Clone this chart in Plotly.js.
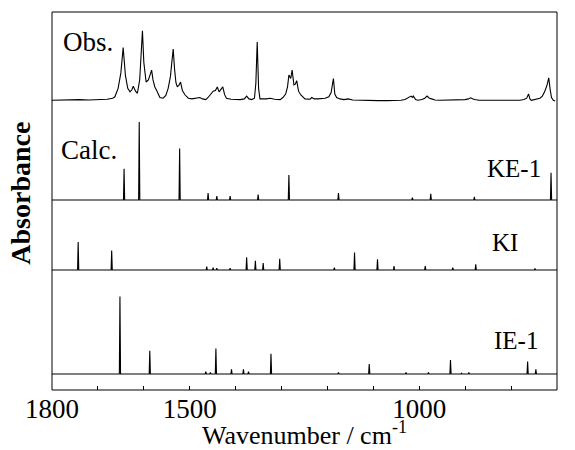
<!DOCTYPE html>
<html>
<head>
<meta charset="utf-8">
<script src="https://cdn.plot.ly/plotly-3.0.1.min.js"></script>
</head>
<body style="margin:0">
<div id="chart"></div>
<script>
// ---- Observed spectrum (wavenumber / cm-1, relative absorbance) ----
const obsWavenumber = [1800,1780,1760,1740,1720,1700,1680,1668,1663,1656,1650,1645,1640,1635,1630,1626,1623,1618,1614,1609,1606,1603,1600,1597,1595,1590,1586,1583,1580,1576,1572,1565,1558,1552,1547,1542,1539,1536,1533,1530,1527,1523,1520,1516,1510,1503,1495,1488,1482,1478,1472,1465,1460,1456,1452,1449,1444,1440,1436,1432,1428,1424,1420,1410,1401,1390,1381,1376,1371,1365,1359,1356,1353,1350,1347,1340,1333,1325,1315,1303,1297,1291,1287,1284,1280,1277,1273,1270,1267,1263,1258,1249,1238,1234,1229,1221,1212,1205,1197,1192,1187,1184,1180,1173,1164,1155,1145,1130,1110,1090,1070,1050,1040,1031,1025,1020,1018,1015,1013,1008,1003,994,988,983,978,973,966,955,940,925,910,900,893,888,883,879,870,857,840,824,805,790,781,772,766,762,759,756,752,745,737,732,727,722,718,715,712,708,704,700];
const obsAbsorbance = [0.01,0.015,0.01,0.02,0.015,0.02,0.025,0.04,0.06,0.18,0.40,0.76,0.36,0.18,0.13,0.16,0.21,0.14,0.11,0.30,0.60,1.00,0.55,0.33,0.27,0.30,0.38,0.44,0.30,0.20,0.15,0.05,0.04,0.08,0.18,0.35,0.55,0.74,0.45,0.26,0.20,0.23,0.27,0.15,0.085,0.04,0.03,0.035,0.04,0.05,0.03,0.02,0.05,0.085,0.11,0.14,0.15,0.20,0.13,0.16,0.20,0.09,0.04,0.025,0.02,0.02,0.03,0.07,0.03,0.02,0.04,0.25,0.84,0.18,0.03,0.025,0.03,0.04,0.025,0.02,0.05,0.10,0.20,0.37,0.32,0.44,0.23,0.24,0.29,0.14,0.085,0.03,0.025,0.05,0.03,0.03,0.035,0.04,0.06,0.12,0.32,0.10,0.05,0.03,0.02,0.03,0.015,0.01,0.005,0.005,0.005,0.005,0.01,0.02,0.04,0.06,0.07,0.05,0.07,0.02,0.01,0.02,0.04,0.07,0.04,0.03,0.015,0.01,0.01,0.01,0.015,0.02,0.03,0.045,0.03,0.02,0.01,0.01,0.005,0.005,0.005,0.005,0.01,0.02,0.04,0.10,0.03,0.01,0.015,0.02,0.04,0.07,0.13,0.22,0.33,0.17,0.05,0.01,0.0];

// ---- Calculated stick spectra (wavenumber / cm-1, relative intensity) ----
const ke1Wavenumber = [1643,1610,1522,1460,1441,1412,1351,1284,1176,1015,975,880,713];
const ke1Intensity  = [0.40,1.00,0.66,0.09,0.05,0.05,0.07,0.32,0.09,0.03,0.08,0.04,0.35];

const kiWavenumber = [1743,1670,1463,1449,1441,1412,1376,1357,1340,1304,1185,1141,1091,1055,987,927,877,748];
const kiIntensity  = [1.00,0.70,0.12,0.08,0.07,0.07,0.45,0.33,0.25,0.40,0.08,0.62,0.38,0.14,0.14,0.08,0.20,0.06];

const ie1Wavenumber = [1652,1587,1465,1455,1443,1409,1383,1372,1323,1176,1109,1029,980,932,908,892,764,746];
const ie1Intensity  = [1.00,0.30,0.03,0.02,0.33,0.06,0.06,0.03,0.26,0.02,0.13,0.02,0.02,0.18,0.01,0.02,0.16,0.06];

// ---- Axis ticks ----
const tickValues = [1800,1500,1000,700];
const tickLabels = ['1800','1500','1000','700'];
const minorTickValues = [1700,1600,1400,1300,1200,1100,900,800];

// ---- Panel labels ----
const panelLabels = ['Obs.','Calc.','KE-1','KI','IE-1'];

const FONT = 'Times New Roman';
const X_MIN = 1800, X_MAX = 700;

function stickLine(wn, inten) {
  const idx = wn.map((_, i) => i).sort((a, b) => wn[b] - wn[a]);
  const xs = [X_MIN], ys = [0];
  idx.forEach(i => { xs.push(wn[i] + 1.3, wn[i], wn[i] - 1.3); ys.push(0, inten[i], 0); });
  xs.push(X_MAX); ys.push(0);
  return {xs, ys};
}

// pixel geometry of the plot area and of each panel's baseline / unit height
const plotTop = 12, plotBottom = 390;
function panelRange(basePx, unitPx) {
  return [-(plotBottom - basePx) / unitPx, (basePx - plotTop) / unitPx];
}

const lineStyle = {color: 'black', width: 1.1};
const ke1 = stickLine(ke1Wavenumber, ke1Intensity);
const ki = stickLine(kiWavenumber, kiIntensity);
const ie1 = stickLine(ie1Wavenumber, ie1Intensity);

const traces = [
  {x: ie1.xs, y: ie1.ys, yaxis: 'y', mode: 'lines', line: lineStyle},
  {x: ki.xs, y: ki.ys, yaxis: 'y2', mode: 'lines', line: lineStyle},
  {x: ke1.xs, y: ke1.ys, yaxis: 'y3', mode: 'lines', line: lineStyle},
  {x: obsWavenumber, y: obsAbsorbance, yaxis: 'y4', mode: 'lines', line: lineStyle}
];

const hiddenY = {visible: false, showgrid: false, zeroline: false, fixedrange: true};
const txt = (size) => ({family: FONT, size: size, color: 'black'});

const layout = {
  width: 575, height: 450,
  margin: {l: 52, r: 18, t: 12, b: 60, pad: 0},
  paper_bgcolor: 'white', plot_bgcolor: 'white',
  showlegend: false,
  font: txt(16),
  xaxis: {
    range: [X_MIN, X_MAX], tickmode: 'array', tickvals: tickValues, ticktext: tickLabels,
    ticks: 'inside', ticklen: 4, tickwidth: 1, tickcolor: 'black',
    minor: {tickmode: 'array', tickvals: minorTickValues, ticks: 'inside', ticklen: 4, tickwidth: 1, tickcolor: 'black', showgrid: false},
    showgrid: false, zeroline: false, showline: false,
    tickfont: txt(27),
    title: {text: 'Wavenumber / cm<sup>-1</sup>', font: txt(26), standoff: 0},
    automargin: false, anchor: 'y'
  },
  yaxis: Object.assign({}, hiddenY, {range: panelRange(374, 77.5)}),
  yaxis2: Object.assign({}, hiddenY, {overlaying: 'y', range: panelRange(270, 28)}),
  yaxis3: Object.assign({}, hiddenY, {overlaying: 'y', range: panelRange(200, 78)}),
  yaxis4: Object.assign({}, hiddenY, {overlaying: 'y', range: panelRange(101, 70.3)}),
  shapes: [{type: 'rect', xref: 'paper', yref: 'paper', x0: 0, x1: 1, y0: 0, y1: 1,
            line: {color: 'black', width: 1}, layer: 'above'}],
  annotations: [
    {text: panelLabels[0], xref: 'paper', yref: 'paper', x: 0.018, y: 0.921, xanchor: 'left', yanchor: 'middle', showarrow: false, font: txt(27)},
    {text: panelLabels[1], xref: 'paper', yref: 'paper', x: 0.014, y: 0.635, xanchor: 'left', yanchor: 'middle', showarrow: false, font: txt(27)},
    {text: panelLabels[2], xref: 'paper', yref: 'paper', x: 0.972, y: 0.587, xanchor: 'right', yanchor: 'middle', showarrow: false, font: txt(25)},
    {text: panelLabels[3], xref: 'paper', yref: 'paper', x: 0.927, y: 0.389, xanchor: 'right', yanchor: 'middle', showarrow: false, font: txt(25)},
    {text: panelLabels[4], xref: 'paper', yref: 'paper', x: 0.966, y: 0.132, xanchor: 'right', yanchor: 'middle', showarrow: false, font: txt(25)},
    {text: '<b>Absorbance</b>', xref: 'paper', yref: 'paper', x: -0.064, y: 0.521, xanchor: 'center', yanchor: 'middle', textangle: -90, showarrow: false, font: txt(28)}
  ]
};

Plotly.newPlot('chart', traces, layout, {displayModeBar: false, staticPlot: true});
</script>
</body>
</html>
